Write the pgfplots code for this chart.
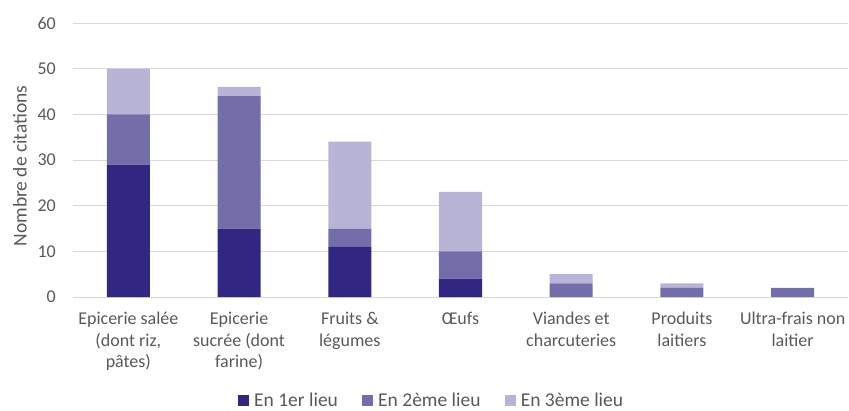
\documentclass[border=0pt]{standalone}
\usepackage{fontspec}
\setmainfont{Carlito}
\usepackage{pgfplots}
\pgfplotsset{compat=1.18}
\definecolor{cA}{RGB}{49,39,130}
\definecolor{cB}{RGB}{115,110,170}
\definecolor{cC}{RGB}{183,180,214}
\definecolor{txt}{RGB}{89,89,89}
\definecolor{grd}{RGB}{217,217,217}
\begin{document}
\fontsize{18pt}{22pt}\selectfont
\begin{tikzpicture}
\useasboundingbox (-73pt,-113pt) rectangle (776pt,297pt);
\begin{axis}[
  at={(0,0)}, anchor=south west,
  scale only axis, width=775pt, height=274pt,
  ybar stacked, bar width=43pt,
  xmin=-0.5, xmax=6.5, ymin=0, ymax=60,
  ytick={0,10,...,60},
  xtick={0,...,6},
  xticklabels={{Epicerie salée\\(dont riz,\\pâtes)},{Epicerie\\sucrée (dont\\farine)},{Fruits \&\\légumes},{Œufs},{Viandes et\\charcuteries},{Produits\\laitiers},{Ultra-frais non\\laitier}},
  xticklabel style={align=center, font=\fontsize{18pt}{21.5pt}\selectfont, text=txt, anchor=north, yshift=-9pt},
  yticklabel style={font=\fontsize{18pt}{22pt}\selectfont, text=txt, anchor=east, xshift=-11pt},
  /pgf/number format/assume math mode=true,
  major tick length=0pt,
  axis x line*=bottom, axis y line*=left,
  x axis line style={draw=grd, line width=1pt, -},
  y axis line style={draw=none},
  ymajorgrids, grid style={draw=grd, line width=1pt},
  ylabel={Nombre de citations},
  every axis y label/.style={at={(axis description cs:0,0.5)}, rotate=90, anchor=center, yshift=53pt, xshift=-6pt, font=\fontsize{19.5pt}{22pt}\selectfont, text=txt},
  legend columns=3,
  legend style={at={(0.4626,0)}, anchor=center, yshift=-104pt, draw=none, fill=none, font=\fontsize{19.5pt}{22pt}\selectfont, text=txt, /tikz/every even column/.append style={column sep=22pt}},
  legend image code/.code={\fill[#1] (0pt,-5pt) rectangle (11pt,6pt);},
]
\addplot[fill=cA, draw=none] coordinates {(0,29) (1,15) (2,11) (3,4) (4,0) (5,0) (6,0)};
\addplot[fill=cB, draw=none] coordinates {(0,11) (1,29) (2,4) (3,6) (4,3) (5,2) (6,2)};
\addplot[fill=cC, draw=none] coordinates {(0,10) (1,2) (2,19) (3,13) (4,2) (5,1) (6,0)};
\legend{\,En 1er lieu, \,En 2ème lieu, \,En 3ème lieu}
\end{axis}
\end{tikzpicture}
\end{document}
